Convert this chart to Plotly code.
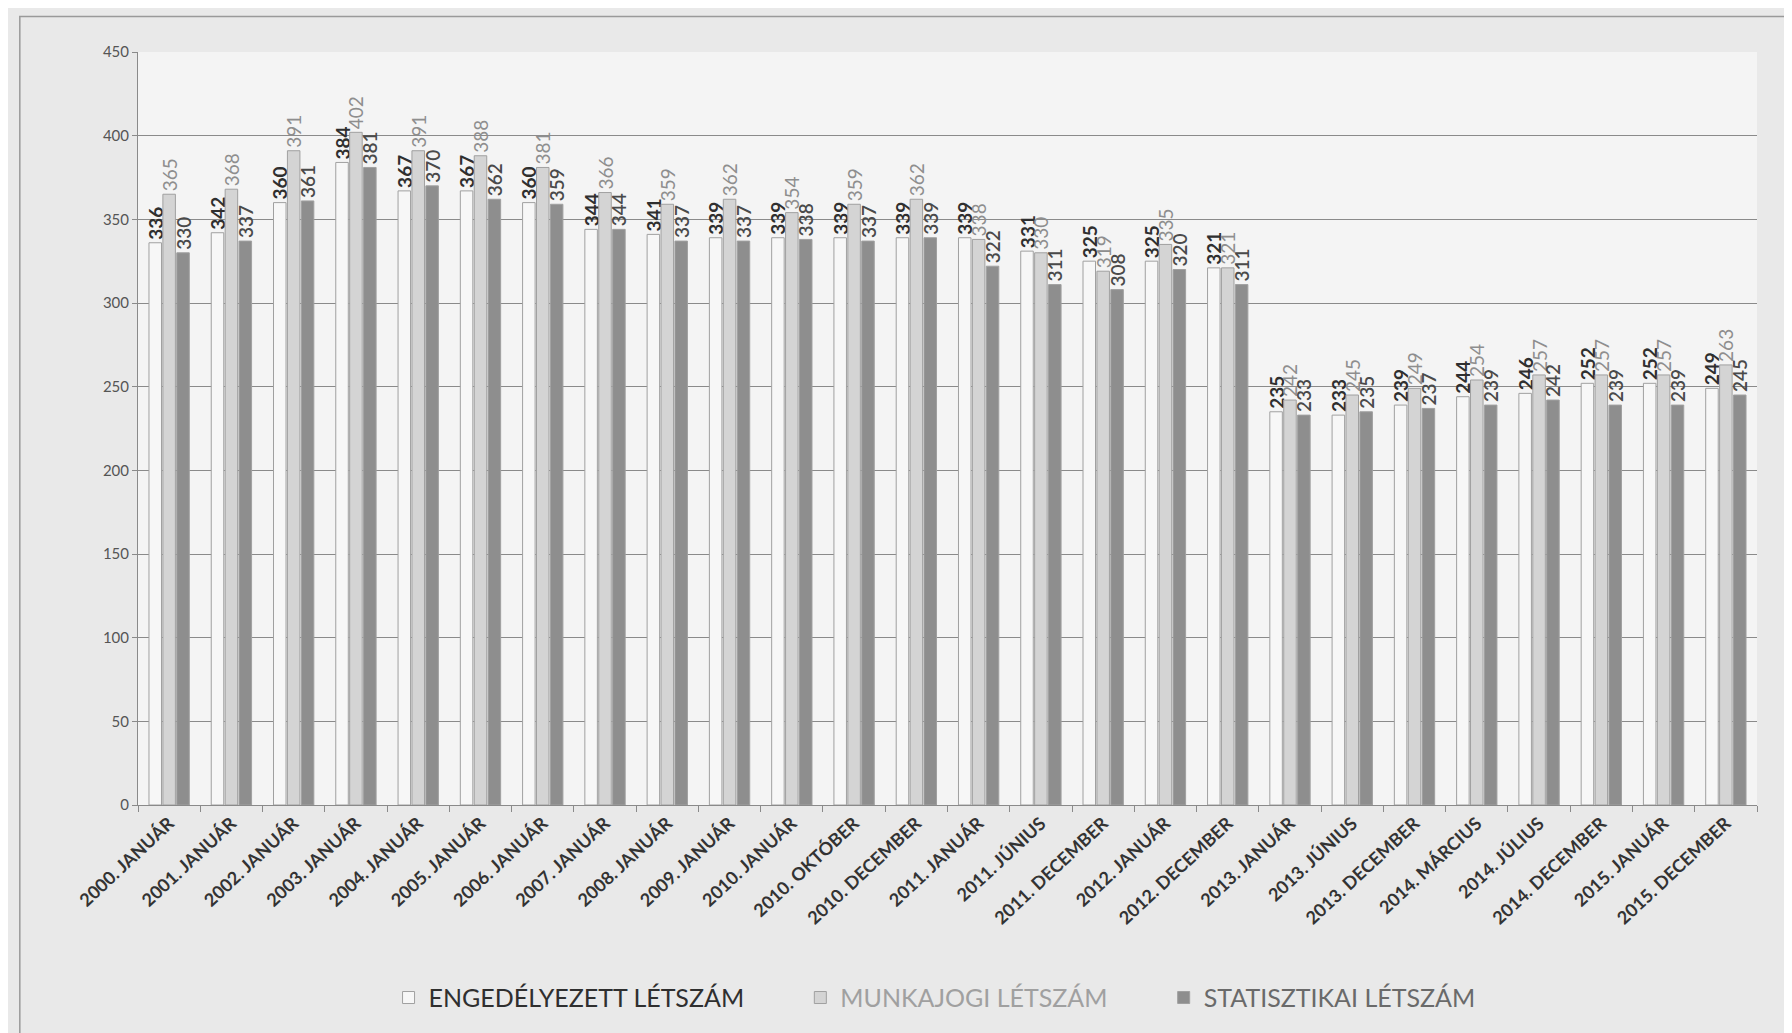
import plotly.graph_objects as go

CATEGORIES = [
    "2000. JANUÁR", "2001. JANUÁR", "2002. JANUÁR", "2003. JANUÁR", "2004. JANUÁR",
    "2005. JANUÁR", "2006. JANUÁR", "2007. JANUÁR", "2008. JANUÁR", "2009. JANUÁR",
    "2010. JANUÁR", "2010. OKTÓBER", "2010. DECEMBER", "2011. JANUÁR", "2011. JÚNIUS",
    "2011. DECEMBER", "2012. JANUÁR", "2012. DECEMBER", "2013. JANUÁR", "2013. JÚNIUS",
    "2013. DECEMBER", "2014. MÁRCIUS", "2014. JÚLIUS", "2014. DECEMBER", "2015. JANUÁR",
    "2015. DECEMBER",
]

ENGEDELYEZETT = [336, 342, 360, 384, 367, 367, 360, 344, 341, 339, 339, 339, 339,
                 339, 331, 325, 325, 321, 235, 233, 239, 244, 246, 252, 252, 249]
MUNKAJOGI = [365, 368, 391, 402, 391, 388, 381, 366, 359, 362, 354, 359, 362,
             338, 330, 319, 335, 321, 242, 245, 249, 254, 257, 257, 257, 263]
STATISZTIKAI = [330, 337, 361, 381, 370, 362, 359, 344, 337, 337, 338, 337, 339,
                322, 311, 308, 320, 311, 233, 235, 237, 239, 242, 239, 239, 245]

Y_TICKS = [0, 50, 100, 150, 200, 250, 300, 350, 400, 450]

FONT = "Lato, 'Open Sans', sans-serif"
PAD = "&nbsp;" * 8  # extra room between legend entries

# name, values, bar fill, label colour, label weight, legend text colour
SERIES = [
    ("ENGEDÉLYEZETT LÉTSZÁM", ENGEDELYEZETT, "#f7f7f7", "#2f2f2f", 700, "#2f2f2f"),
    ("MUNKAJOGI LÉTSZÁM", MUNKAJOGI, "#d4d4d4", "#8e8e8e", 400, "#a0a0a0"),
    ("STATISZTIKAI LÉTSZÁM", STATISZTIKAI, "#8e8e8e", "#4a4a4a", 600, "#6a6a6a"),
]

fig = go.Figure()
for i, (name, values, color, text_color, weight, legend_color) in enumerate(SERIES):
    pad = PAD if i < len(SERIES) - 1 else ""
    fig.add_trace(go.Bar(
        x=CATEGORIES,
        y=values,
        name=f"<span style='color:{legend_color}'>{name}</span>{pad}",
        marker=dict(color=color, line=dict(color="#a0a0a0", width=1)),
        text=values,
        textposition="outside",
        textangle=-90,
        constraintext="none",
        cliponaxis=False,
        textfont=dict(family=FONT, size=19, color=text_color, weight=weight),
    ))

fig.update_layout(
    width=1792,
    height=1033,
    barmode="group",
    bargap=0.33,
    bargroupgap=0.1,
    paper_bgcolor="#e9e9e9",
    plot_bgcolor="#f4f4f4",
    font=dict(family=FONT, color="#444444", size=14),
    margin=dict(l=130, r=43, t=44, b=236),
    showlegend=True,
    legend=dict(
        orientation="h",
        x=0.492,
        xanchor="center",
        y=-0.256,
        yanchor="middle",
        font=dict(family=FONT, size=25, color="#3a3a3a"),
        itemwidth=30,
        traceorder="normal",
        bgcolor="rgba(0,0,0,0)",
    ),
    shapes=[dict(
        type="rect", xref="paper", yref="paper",
        x0=-0.073, x1=1.02, y0=-0.306, y1=1.047,
        line=dict(color="#9a9a9a", width=1.5), fillcolor="rgba(0,0,0,0)", layer="below",
    )],
)

fig.update_xaxes(
    tickangle=-43,
    tickson="boundaries",
    automargin=False,
    tickfont=dict(family=FONT, size=18, color="#333333", weight=700),
    showline=True,
    linecolor="#8a8a8a",
    ticks="outside",
    tickcolor="#8a8a8a",
    ticklen=6,
    showgrid=False,
)
fig.update_yaxes(
    range=[0, 450],
    tickvals=Y_TICKS,
    tickfont=dict(family=FONT, size=15, color="#555555"),
    showline=True,
    linecolor="#8a8a8a",
    ticks="outside",
    tickcolor="#8a8a8a",
    ticklen=5,
    showgrid=True,
    gridcolor="#8a8a8a",
    gridwidth=1.2,
    zeroline=False,
)

fig.write_html("out.html")
